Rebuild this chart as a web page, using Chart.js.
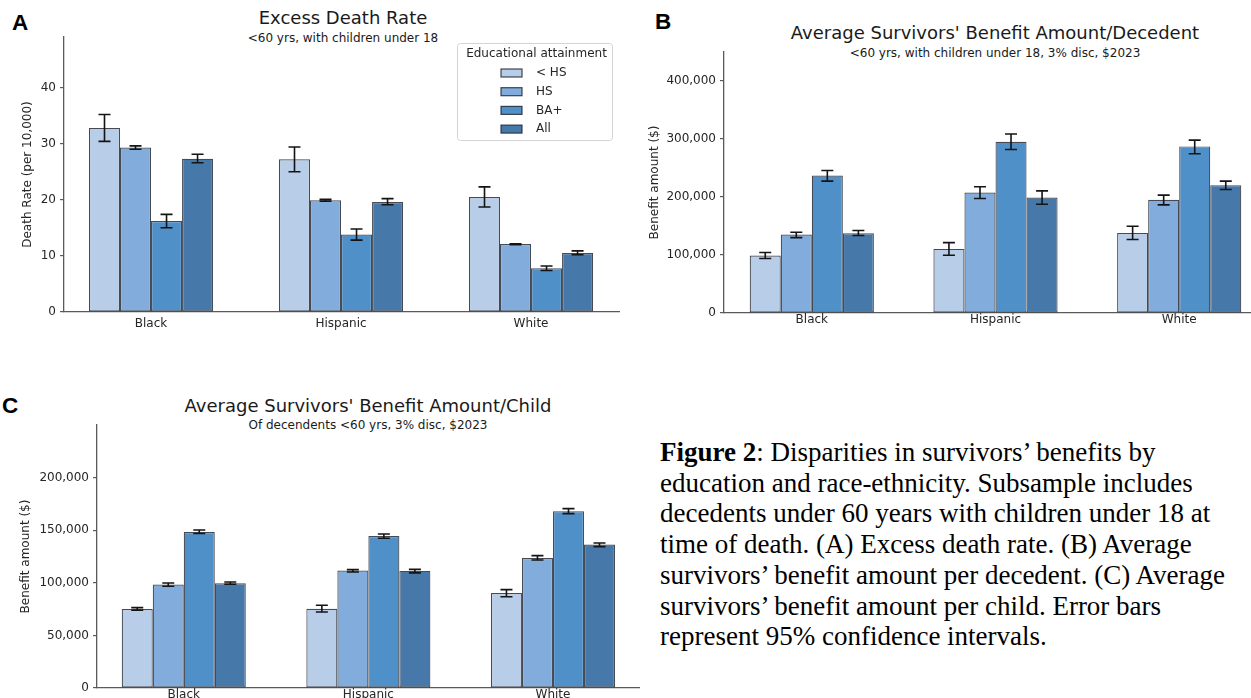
<!DOCTYPE html>
<html>
<head>
<meta charset="utf-8">
<script src="https://cdn.jsdelivr.net/npm/chart.js@4.4.1/dist/chart.umd.min.js"></script>
<style>
  html, body { margin: 0; padding: 0; background: #fff; overflow: hidden; width: 1251px; height: 698px; }
  body { position: relative; font-family: "DejaVu Sans", sans-serif; }
  canvas { position: absolute; display: block; }
  .ttl { position: absolute; transform: translate(-50%, -50%); white-space: nowrap; color: #1a1a1a; line-height: 1; }
  .main { font-size: 18px; }
  .sub { font-size: 12px; }
  .letter { position: absolute; font-family: "Liberation Sans", Arial, sans-serif; font-weight: bold; font-size: 22.5px; line-height: 1; color: #000; }
  .caption { position: absolute; left: 660px; top: 437px; font-family: "Liberation Serif", "Times New Roman", serif; font-size: 27px; line-height: 30.7px; color: #000; white-space: nowrap; }
</style>
</head>
<body>
<div class="letter" style="left:12px;top:12px">A</div>
<div class="letter" style="left:655px;top:11px">B</div>
<div class="letter" style="left:2px;top:395px">C</div>

<div class="ttl main" style="left:343px;top:18px">Excess Death Rate</div>
<div class="ttl sub" style="left:343px;top:38px">&lt;60 yrs, with children under 18</div>

<div class="ttl main" style="left:995px;top:33px">Average Survivors' Benefit Amount/Decedent</div>
<div class="ttl sub" style="left:995px;top:53px">&lt;60 yrs, with children under 18, 3% disc, $2023</div>

<div class="ttl main" style="left:368px;top:406px">Average Survivors' Benefit Amount/Child</div>
<div class="ttl sub" style="left:368px;top:425px">Of decendents &lt;60 yrs, 3% disc, $2023</div>

<canvas id="panelA" width="640" height="345" style="left:0;top:0"></canvas>
<canvas id="panelB" width="650" height="345" style="left:640px;top:0"></canvas>
<canvas id="panelC" width="660" height="330" style="left:0;top:390px"></canvas>

<div class="caption"><b>Figure 2</b>: Disparities in survivors’ benefits by<br>education and race-ethnicity. Subsample includes<br>decedents under 60 years with children under 18 at<br>time of death. (A) Excess death rate. (B) Average<br>survivors’ benefit amount per decedent. (C) Average<br>survivors’ benefit amount per child. Error bars<br>represent 95% confidence intervals.</div>

<script>
// Groups on the x axis and the four education series
const categories = ['Black', 'Hispanic', 'White'];
const seriesLabels = ['< HS', 'HS', 'BA+', 'All'];

// (A) Excess death rate, per 10,000
const deathLessHS = [32.8, 27.2, 20.5];
const deathHS     = [29.3, 19.9, 12.1];
const deathBA     = [16.2, 13.8, 7.8];
const deathAll    = [27.3, 19.6, 10.5];
const deathLower  = [[30.4, 25.0, 18.7], [29.0, 19.75, 12.0], [15.0, 12.8, 7.4], [26.6, 19.1, 10.2]];
const deathUpper  = [[35.2, 29.4, 22.3], [29.6, 20.1, 12.15], [17.4, 14.8, 8.2], [28.1, 20.2, 10.9]];
const deathTicks  = [0, 10, 20, 30, 40];

// (B) Average survivors' benefit per decedent, $
const decedentLessHS = [99000, 110500, 138000];
const decedentHS     = [135300, 207800, 195100];
const decedentBA     = [237000, 295300, 287200];
const decedentAll    = [137600, 199100, 220400];
const decedentLower  = [[94000, 99600, 126600], [130000, 197400, 186500], [227300, 282000, 274500], [133500, 187600, 213000]];
const decedentUpper  = [[104200, 121400, 149600], [139300, 217600, 203200], [245800, 308500, 298100], [142200, 210600, 227300]];
const decedentTicks  = [0, 100000, 200000, 300000, 400000];

// (C) Average survivors' benefit per child, $
const childLessHS = [75100, 75400, 90300];
const childHS     = [98300, 111600, 123600];
const childBA     = [148300, 144500, 168000];
const childAll    = [99500, 111300, 136300];
const childLower  = [[73900, 72300, 86800], [96700, 110300, 121700], [146800, 142300, 165800], [98600, 109400, 134400]];
const childUpper  = [[76400, 78600, 93500], [99800, 112500, 125800], [150200, 146400, 170500], [100800, 112800, 137900]];
const childTicks  = [0, 50000, 100000, 150000, 200000];

// Styling
const seriesColors = ['#b7cde8', '#81acdb', '#5090c8', '#4679aa'];
const edgeColor = 'rgba(28, 34, 46, 0.82)';
const axisColor = '#5a5a5a';
const textColor = '#262626';
const baseFont = { family: 'DejaVu Sans', size: 12 };

// Vertical confidence-interval whiskers drawn over each bar
const errorBarPlugin = {
  id: 'errorBars',
  afterDatasetsDraw(chart) {
    const { ctx } = chart;
    const y = chart.scales.y;
    const cap = 6;
    ctx.save();
    ctx.strokeStyle = '#141414';
    ctx.lineWidth = 1.6;
    chart.data.datasets.forEach((ds, i) => {
      chart.getDatasetMeta(i).data.forEach((bar, j) => {
        const lo = y.getPixelForValue(ds.ciLow[j]);
        const hi = y.getPixelForValue(ds.ciHigh[j]);
        ctx.beginPath();
        ctx.moveTo(bar.x, lo); ctx.lineTo(bar.x, hi);
        ctx.moveTo(bar.x - cap, lo); ctx.lineTo(bar.x + cap, lo);
        ctx.moveTo(bar.x - cap, hi); ctx.lineTo(bar.x + cap, hi);
        ctx.stroke();
      });
    });
    ctx.restore();
  }
};

// Framed legend in the upper right of the plot area
const boxLegendPlugin = {
  id: 'boxLegend',
  afterDraw(chart, args, opts) {
    if (!opts.show) return;
    const { ctx, chartArea } = chart;
    const right = chartArea.right - 7;
    const left = right - 155;
    const top = chartArea.top + 6;
    const h = 97;
    ctx.save();
    ctx.beginPath();
    if (ctx.roundRect) ctx.roundRect(left + 0.5, top + 0.5, right - left, h, 3);
    else ctx.rect(left + 0.5, top + 0.5, right - left, h);
    ctx.fillStyle = 'rgba(255,255,255,0.85)';
    ctx.fill();
    ctx.strokeStyle = '#d4d4d4';
    ctx.lineWidth = 1;
    ctx.stroke();
    ctx.fillStyle = textColor;
    ctx.font = '12px "DejaVu Sans"';
    ctx.textAlign = 'center';
    ctx.textBaseline = 'middle';
    ctx.fillText(opts.title, (left + right) / 2 + 2, top + 11);
    ctx.textAlign = 'left';
    chart.data.datasets.forEach((ds, i) => {
      const cy = top + 30 + i * 18.7;
      ctx.fillStyle = ds.backgroundColor;
      ctx.fillRect(left + 44, cy - 4, 21, 8);
      ctx.strokeStyle = edgeColor;
      ctx.lineWidth = 1.2;
      ctx.strokeRect(left + 44, cy - 4, 21, 8);
      ctx.fillStyle = textColor;
      ctx.fillText(ds.label, left + 79, cy);
    });
    ctx.restore();
  }
};

function buildPanel(id, series, lower, upper, ticks, cfg) {
  return new Chart(document.getElementById(id), {
    type: 'bar',
    data: {
      datasets: series.map((vals, i) => ({
        label: seriesLabels[i],
        data: vals.map((v, j) => ({ x: j, y: v })),
        ciLow: lower[i],
        ciHigh: upper[i],
        backgroundColor: seriesColors[i],
        borderColor: edgeColor,
        borderWidth: 1.2,
        borderSkipped: false,
        categoryPercentage: cfg.groupFrac,
        barPercentage: 1.0
      }))
    },
    options: {
      responsive: false,
      animation: false,
      devicePixelRatio: 1,
      layout: { padding: { left: 0, top: cfg.padTop, right: cfg.padRight, bottom: 0 } },
      plugins: {
        legend: { display: false },
        tooltip: { enabled: false },
        boxLegend: { show: !!cfg.legend, title: 'Educational attainment' }
      },
      scales: {
        x: {
          type: 'linear',
          offset: false,
          min: cfg.xMin,
          max: cfg.xMax,
          afterBuildTicks: s => { s.ticks = categories.map((c, i) => ({ value: i })); },
          afterFit: s => { s.height = cfg.xHeight; },
          ticks: {
            callback: v => categories[v] ?? '',
            font: baseFont, color: textColor,
            padding: cfg.xPad, autoSkip: false, maxRotation: 0
          },
          grid: { display: true, offset: false, drawOnChartArea: false, drawTicks: false },
          border: { display: true, color: axisColor, width: 1.3 }
        },
        y: {
          min: 0,
          max: cfg.yMax,
          afterBuildTicks: s => { s.ticks = ticks.map(v => ({ value: v })); },
          afterFit: s => { s.width = cfg.yWidth; },
          ticks: {
            callback: v => v.toLocaleString('en-US'),
            font: baseFont, color: textColor, padding: 4
          },
          grid: { drawOnChartArea: false, drawTicks: true, tickLength: 4, color: axisColor, lineWidth: 1.2 },
          border: { display: true, color: axisColor, width: 1.3 },
          title: {
            display: true, text: cfg.yTitle, font: baseFont, color: textColor,
            padding: { top: cfg.yTitlePad, bottom: 0 }
          }
        }
      }
    },
    plugins: [errorBarPlugin, boxLegendPlugin]
  });
}

buildPanel('panelA', [deathLessHS, deathHS, deathBA, deathAll], deathLower, deathUpper, deathTicks, {
  xMin: -0.458, xMax: 2.463, yMax: 49, groupFrac: 0.653,
  padTop: 37, padRight: 21, yWidth: 64, xHeight: 33, xPad: 5,
  yTitle: 'Death Rate (per 10,000)', yTitlePad: 21, legend: true
});

buildPanel('panelB', [decedentLessHS, decedentHS, decedentBA, decedentAll], decedentLower, decedentUpper, decedentTicks, {
  xMin: -0.478, xMax: 2.478, yMax: 450000, groupFrac: 0.676,
  padTop: 52, padRight: 23, yWidth: 84, xHeight: 32, xPad: 0,
  yTitle: 'Benefit amount ($)', yTitlePad: 8
});

buildPanel('panelC', [childLessHS, childHS, childBA, childAll], childLower, childUpper, childTicks, {
  xMin: -0.47, xMax: 2.466, yMax: 250000, groupFrac: 0.672,
  padTop: 35, padRight: 21, yWidth: 97, xHeight: 32, xPad: 0,
  yTitle: 'Benefit amount ($)', yTitlePad: 19
});
</script>
</body>
</html>
